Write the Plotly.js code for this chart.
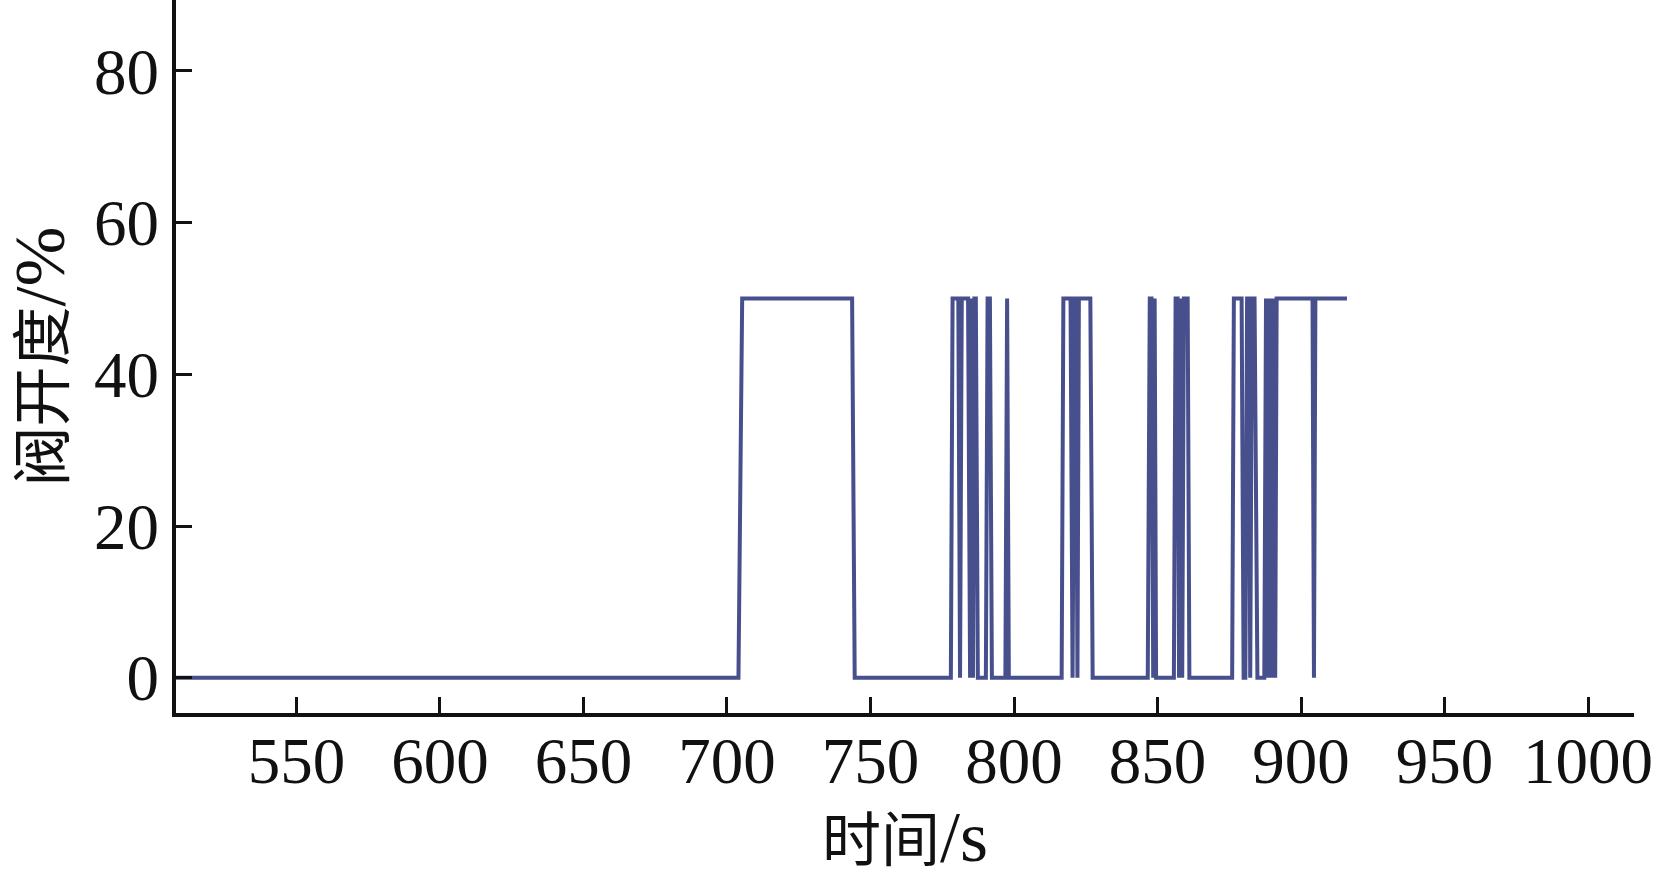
<!DOCTYPE html>
<html>
<head>
<meta charset="utf-8">
<script src="https://cdn.plot.ly/plotly-3.0.1.min.js"></script>
<style>html,body{margin:0;padding:0;background:#fff;}#chart{width:1661px;height:883px;}</style>
</head>
<body>
<div id="chart"></div>
<script>
// Valve opening (%) vs time (s): vertices of the recorded trace
var timeS = [
  508, 704.0, 705.3, 743.6, 744.5,
  778.0, 778.6, 780.6, 781.2, 781.8, 784.0, 784.7, 785.2, 785.7, 786.2, 786.7, 787.4,
  790.2, 790.8, 791.6, 792.3, 797.0, 797.6, 798.2,
  816.6, 817.2, 819.7, 820.4, 821.1, 821.6, 822.1, 822.6, 826.6, 827.4,
  846.6, 847.3, 847.9, 848.5, 849.0, 849.5,
  855.7, 856.3, 857.0, 857.5, 858.0, 858.6, 859.2, 860.5, 861.1,
  876.0, 876.6, 879.3, 880.0, 880.6, 881.2, 881.8, 882.3, 882.9, 883.8, 884.8,
  887.2, 887.8, 888.3, 888.8, 889.2, 889.7, 890.1, 890.6, 891.0, 891.5,
  904.0, 904.5, 905.0, 916.0
];
var valvePct = [
  0, 0, 50, 50, 0,
  0, 50, 50, 0, 50, 50, 0, 50, 0, 50, 50, 0,
  0, 50, 50, 0, 0, 50, 0,
  0, 50, 50, 0, 50, 50, 0, 50, 50, 0,
  0, 50, 50, 0, 50, 0,
  0, 50, 50, 0, 50, 0, 50, 50, 0,
  0, 50, 50, 0, 0, 50, 50, 0, 50, 50, 0,
  0, 50, 0, 50, 0, 50, 0, 50, 0, 50,
  50, 0, 50, 50
];
var xTicks = [550, 600, 650, 700, 750, 800, 850, 900, 950, 1000];
var yTicks = [0, 20, 40, 60, 80];
var xTitle = '时间<span style="font-size:72px">/s</span>';
var yTitle = '阀开度<span style="font-size:72px">/%</span>';

var fontFam = '"Liberation Serif", "Noto Sans CJK SC", serif';

var trace = {
  x: timeS, y: valvePct, type: 'scatter', mode: 'lines',
  line: {color: '#474f8d', width: 4},
  hoverinfo: 'x+y'
};

var layout = {
  width: 1661, height: 883,
  margin: {l: 176, r: 27, t: 0, b: 170},
  paper_bgcolor: '#ffffff', plot_bgcolor: '#ffffff',
  showlegend: false,
  font: {family: fontFam, color: '#111111'},
  xaxis: {
    range: [508.05, 1016], tickvals: xTicks, ticktext: xTicks.map(String),
    ticks: 'inside', ticklen: 16, tickwidth: 3, tickcolor: '#111',
    showline: true, linewidth: 4, linecolor: '#111', mirror: false,
    showgrid: false, zeroline: false,
    tickfont: {family: fontFam, size: 65, color: '#111'},
    ticklabelstandoff: -12,
    title: {text: xTitle, font: {family: fontFam, size: 59, color: '#111'}, standoff: 10}
  },
  yaxis: {
    range: [-4.65, 89.36], tickvals: yTicks, ticktext: yTicks.map(String),
    ticks: 'inside', ticklen: 16, tickwidth: 3, tickcolor: '#111',
    showline: true, linewidth: 4, linecolor: '#111', mirror: false,
    showgrid: false, zeroline: false,
    tickfont: {family: fontFam, size: 65, color: '#111'},
    title: {text: yTitle, font: {family: fontFam, size: 60, color: '#111'}, standoff: 14}
  }
};

Plotly.newPlot('chart', [trace], layout, {displayModeBar: false, staticPlot: true});
</script>
</body>
</html>
